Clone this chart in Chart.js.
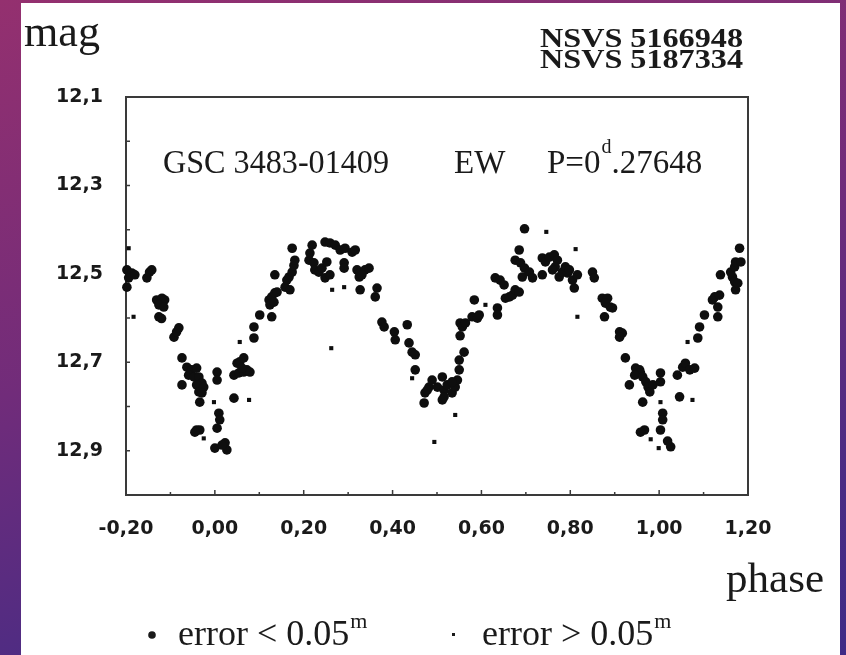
<!DOCTYPE html>
<html>
<head>
<meta charset="utf-8">
<script src="https://cdn.jsdelivr.net/npm/chart.js@4.4.1/dist/chart.umd.min.js"></script>
<style>
  html, body { margin: 0; padding: 0; }
  body {
    width: 846px; height: 655px; overflow: hidden; position: relative;
    background: linear-gradient(165deg, #94306f 0%, #712c7a 45%, #4a2c84 80%, #3f2b86 100%);
  }
  .panel { position: absolute; left: 21px; top: 3px; width: 819px; height: 652px; background: #fff; }
  #chart { position: absolute; left: 0; top: 0; }
</style>
</head>
<body>
<div class="panel"></div>
<canvas id="chart" width="846" height="655"></canvas>
<script>
// points with error < 0.05 mag (big dots)
const bigPhase = [
  -0.198, -0.187, -0.194, -0.180, -0.198, -0.153, -0.147, -0.142, -0.131, -0.119,
  -0.113, -0.126, -0.115, -0.126, -0.120, -0.092, -0.086, -0.081, -0.074, -0.063,
  -0.052, -0.041, -0.059, -0.047, -0.036, -0.029, -0.041, -0.025, -0.036, -0.029,
  -0.034, -0.074, -0.041, -0.034, -0.045, 0.005, 0.005, 0.009, 0.011, 0.005,
  0.000, 0.023, 0.027, 0.016, 0.043, 0.043, 0.054, 0.065, 0.072, 0.079,
  0.050, 0.056, 0.065, 0.061, 0.088, 0.088, 0.101, 0.128, 0.122, 0.128,
  0.135, 0.140, 0.124, 0.133, 0.135, 0.158, 0.162, 0.167, 0.174, 0.178,
  0.180, 0.169, 0.174, 0.212, 0.214, 0.219, 0.223, 0.225, 0.234, 0.241,
  0.252, 0.248, 0.259, 0.248, 0.259, 0.271, 0.282, 0.293, 0.309, 0.316,
  0.291, 0.291, 0.320, 0.327, 0.338, 0.347, 0.325, 0.331, 0.327, 0.365,
  0.361, 0.376, 0.381, 0.404, 0.406, 0.433, 0.437, 0.444, 0.451, 0.451,
  0.471, 0.473, 0.482, 0.489, 0.478, 0.501, 0.512, 0.516, 0.512, 0.523,
  0.534, 0.541, 0.546, 0.550, 0.550, 0.552, 0.552, 0.516, 0.534, 0.561,
  0.557, 0.564, 0.584, 0.579, 0.591, 0.595, 0.631, 0.642, 0.651, 0.636,
  0.636, 0.654, 0.663, 0.670, 0.676, 0.685, 0.697, 0.685, 0.676, 0.688,
  0.697, 0.692, 0.708, 0.715, 0.737, 0.744, 0.753, 0.764, 0.771, 0.766,
  0.760, 0.737, 0.775, 0.782, 0.789, 0.794, 0.798, 0.805, 0.809, 0.816,
  0.850, 0.854, 0.872, 0.884, 0.879, 0.890, 0.895, 0.877, 0.911, 0.917,
  0.911, 0.924, 0.947, 0.956, 0.958, 0.945, 0.963, 0.933, 0.970, 0.975,
  0.979, 0.986, 1.003, 1.003, 0.963, 1.008, 1.008, 1.003, 0.967, 0.958,
  1.026, 1.019, 1.041, 1.053, 1.059, 1.069, 1.080, 1.046, 1.087, 1.091,
  1.102, 1.120, 1.125, 1.136, 1.132, 1.132, 1.138, 1.165, 1.161, 1.170,
  1.172, 1.184, 1.170, 1.172, 1.177, 1.181
];
const bigMag = [
  12.491, 12.498, 12.509, 12.502, 12.530, 12.509, 12.496, 12.491, 12.559, 12.555,
  12.559, 12.570, 12.575, 12.597, 12.601, 12.643, 12.631, 12.622, 12.690, 12.711,
  12.717, 12.713, 12.729, 12.733, 12.733, 12.747, 12.751, 12.756, 12.767, 12.769,
  12.790, 12.751, 12.853, 12.853, 12.858, 12.722, 12.740, 12.815, 12.830, 12.849,
  12.894, 12.882, 12.898, 12.887, 12.781, 12.729, 12.724, 12.722, 12.717, 12.722,
  12.702, 12.699, 12.690, 12.713, 12.645, 12.620, 12.593, 12.597, 12.559, 12.552,
  12.543, 12.541, 12.570, 12.564, 12.502, 12.530, 12.514, 12.507, 12.496, 12.481,
  12.469, 12.536, 12.442, 12.469, 12.453, 12.435, 12.475, 12.491, 12.496, 12.487,
  12.473, 12.509, 12.502, 12.428, 12.430, 12.435, 12.446, 12.442, 12.451, 12.446,
  12.475, 12.487, 12.491, 12.498, 12.491, 12.487, 12.507, 12.502, 12.536, 12.532,
  12.552, 12.609, 12.620, 12.631, 12.649, 12.615, 12.656, 12.677, 12.683, 12.717,
  12.792, 12.769, 12.756, 12.740, 12.763, 12.756, 12.733, 12.763, 12.785, 12.751,
  12.769, 12.756, 12.740, 12.717, 12.695, 12.640, 12.611, 12.778, 12.744, 12.677,
  12.620, 12.611, 12.559, 12.597, 12.600, 12.593, 12.509, 12.514, 12.525, 12.577,
  12.593, 12.555, 12.552, 12.548, 12.536, 12.541, 12.398, 12.446, 12.469, 12.475,
  12.487, 12.507, 12.496, 12.509, 12.464, 12.473, 12.462, 12.457, 12.469, 12.484,
  12.491, 12.502, 12.507, 12.496, 12.484, 12.498, 12.491, 12.514, 12.532, 12.502,
  12.496, 12.509, 12.555, 12.555, 12.566, 12.575, 12.577, 12.597, 12.631, 12.634,
  12.643, 12.690, 12.713, 12.717, 12.724, 12.729, 12.733, 12.751, 12.744, 12.756,
  12.767, 12.751, 12.724, 12.744, 12.790, 12.815, 12.830, 12.853, 12.853, 12.858,
  12.891, 12.878, 12.729, 12.711, 12.702, 12.717, 12.713, 12.778, 12.645, 12.620,
  12.593, 12.559, 12.552, 12.548, 12.575, 12.597, 12.502, 12.507, 12.496, 12.484,
  12.473, 12.473, 12.518, 12.536, 12.521, 12.442
];

// points with error > 0.05 mag (small dots)
const smallPhase = [
  -0.194, -0.183, -0.025, -0.002, 0.077, 0.056, 0.264, 0.291, 0.262, 0.444,
  0.541, 0.494, 0.609, 0.746, 0.812, 0.816, 1.003, 0.981, 0.999, 1.075, 1.064
];
const smallMag = [
  12.442, 12.597, 12.872, 12.790, 12.785, 12.654, 12.536, 12.530, 12.668, 12.736,
  12.819, 12.880, 12.570, 12.405, 12.444, 12.597, 12.790, 12.874, 12.894, 12.785, 12.654
];

const xTickValues = [-0.2, 0, 0.2, 0.4, 0.6, 0.8, 1.0, 1.2];
const xTickLabels = ['-0,20', '0,00', '0,20', '0,40', '0,60', '0,80', '1,00', '1,20'];
const yTickValues = [12.1, 12.3, 12.5, 12.7, 12.9];
const yTickLabels = ['12,1', '12,3', '12,5', '12,7', '12,9'];

const INK = '#1a1a1a';
const SERIF = '"Liberation Serif", "Times New Roman", serif';

function toPoints(xs, ys) {
  return xs.map((x, i) => ({ x: x, y: ys[i] }));
}

// draw text, optionally squeezed/stretched to a given width
function text(ctx, str, x, y, font, width) {
  ctx.save();
  ctx.font = font;
  ctx.fillStyle = INK;
  ctx.textAlign = 'left';
  ctx.textBaseline = 'alphabetic';
  const w = ctx.measureText(str).width;
  ctx.translate(x, y);
  if (width) ctx.scale(width / w, 1);
  ctx.fillText(str, 0, 0);
  ctx.restore();
  return width || w;
}

const framePlugin = {
  id: 'frame',
  beforeDatasetsDraw(chart) {
    const ctx = chart.ctx;
    const a = chart.chartArea;
    const xs = chart.scales.x, ys = chart.scales.y;
    ctx.save();
    ctx.strokeStyle = '#3a3a3a';
    ctx.lineWidth = 2;
    ctx.strokeRect(a.left, a.top, a.right - a.left, a.bottom - a.top);
    ctx.lineWidth = 1.5;
    ctx.beginPath();
    // inner ticks every 0.1
    for (let i = -1; i <= 11; i++) {
      const px = xs.getPixelForValue(i / 10);
      const len = (i % 2 === 0) ? 5 : 3;
      ctx.moveTo(px, a.bottom);
      ctx.lineTo(px, a.bottom - len);
    }
    for (let i = 2; i <= 9; i++) {
      const py = ys.getPixelForValue(12 + i / 10);
      ctx.moveTo(a.left, py);
      ctx.lineTo(a.left + 4, py);
    }
    ctx.stroke();
    ctx.restore();
  },
  afterDraw(chart) {
    const ctx = chart.ctx;
    text(ctx, 'mag', 24, 46, '44px ' + SERIF, 76);
    text(ctx, 'NSVS 5166948', 540, 47, 'bold 27px ' + SERIF, 203);
    text(ctx, 'NSVS 5187334', 540, 68, 'bold 27px ' + SERIF, 203);

    text(ctx, 'GSC 3483-01409', 163, 173, '33px ' + SERIF, 226);
    text(ctx, 'EW', 454, 173, '33px ' + SERIF);
    let x = 547;
    x += text(ctx, 'P=0', x, 173, '33px ' + SERIF);
    x += text(ctx, 'd', x + 1, 153, '20px ' + SERIF) + 1;
    text(ctx, '.27648', x, 173, '33px ' + SERIF);

    text(ctx, 'phase', 726, 592, '42px ' + SERIF, 98);

    // legend
    ctx.save();
    ctx.fillStyle = INK;
    ctx.beginPath();
    ctx.arc(152, 635, 3.8, 0, Math.PI * 2);
    ctx.fill();
    ctx.fillRect(452, 633, 3, 3);
    ctx.restore();
    let lx = 178;
    lx += text(ctx, 'error < 0.05', lx, 645, '36px ' + SERIF);
    text(ctx, 'm', lx + 1, 628, '22px ' + SERIF);
    lx = 482;
    lx += text(ctx, 'error > 0.05', lx, 645, '36px ' + SERIF);
    text(ctx, 'm', lx + 1, 628, '22px ' + SERIF);
  }
};

const tickFont = { family: '"DejaVu Sans", Verdana, sans-serif', weight: 'bold', size: 19 };

new Chart(document.getElementById('chart'), {
  type: 'scatter',
  data: {
    datasets: [
      {
        data: toPoints(bigPhase, bigMag),
        pointStyle: 'circle',
        pointRadius: 4.8,
        backgroundColor: '#0e0e0e',
        borderWidth: 0,
        clip: false
      },
      {
        data: toPoints(smallPhase, smallMag),
        pointStyle: 'rect',
        pointRadius: 2.9,
        backgroundColor: '#0e0e0e',
        borderWidth: 0,
        clip: false
      }
    ]
  },
  options: {
    responsive: false,
    animation: false,
    events: [],
    layout: { padding: { top: 97, right: 98, bottom: 0, left: 0 } },
    plugins: { legend: { display: false }, tooltip: { enabled: false } },
    scales: {
      x: {
        type: 'linear',
        min: -0.2,
        max: 1.2,
        grid: { display: false, drawTicks: false },
        border: { display: false },
        afterBuildTicks: s => { s.ticks = xTickValues.map(v => ({ value: v })); },
        afterFit: s => { s.height = 160; },
        ticks: {
          callback: (v, i) => xTickLabels[i],
          font: tickFont,
          color: INK,
          padding: 23,
          maxRotation: 0,
          autoSkip: false
        }
      },
      y: {
        type: 'linear',
        reverse: true,
        min: 12.1,
        max: 13.0,
        grid: { display: false, drawTicks: false },
        border: { display: false },
        afterBuildTicks: s => { s.ticks = yTickValues.map(v => ({ value: v })); },
        afterFit: s => { s.width = 126; },
        ticks: {
          callback: (v, i) => yTickLabels[i],
          font: tickFont,
          color: INK,
          padding: 23,
          autoSkip: false
        }
      }
    }
  },
  plugins: [framePlugin]
});
</script>
</body>
</html>
